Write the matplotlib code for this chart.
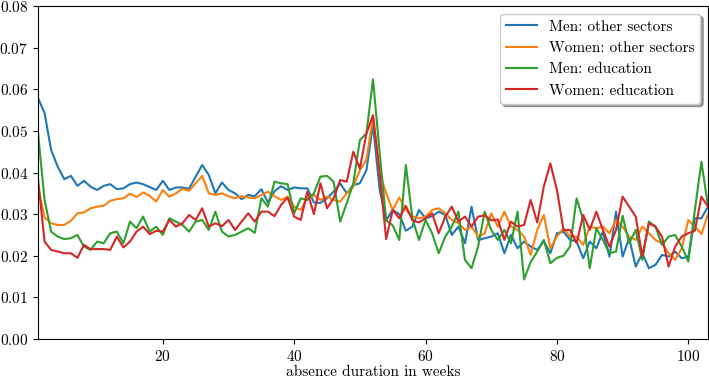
import matplotlib
matplotlib.use("Agg")
import matplotlib.pyplot as plt
import numpy as np

plt.rcParams['font.family'] = 'serif'
plt.rcParams['font.serif'] = ['cmr10', 'DejaVu Serif']
plt.rcParams['mathtext.fontset'] = 'cm'
plt.rcParams['axes.formatter.use_mathtext'] = True
plt.rcParams['font.size'] = 11

weeks = np.arange(1, 104)

# share of absences ending in each week
men_other = [
    0.0579, 0.0543, 0.0454, 0.0414, 0.0384, 0.0392, 0.0368, 0.0380, 0.0366, 0.0358,
    0.0368, 0.0372, 0.0360, 0.0362, 0.0372, 0.0376, 0.0372, 0.0365, 0.0358, 0.0380,
    0.0358, 0.0364, 0.0364, 0.0361, 0.0390, 0.0418, 0.0394, 0.0350, 0.0376, 0.0358,
    0.0350, 0.0336, 0.0346, 0.0343, 0.0360, 0.0328, 0.0355, 0.0367, 0.0358, 0.0364,
    0.0362, 0.0362, 0.0328, 0.0327, 0.0338, 0.0354, 0.0374, 0.0350, 0.0370, 0.0374,
    0.0406, 0.0515, 0.0360, 0.0285, 0.0310, 0.0300, 0.0260, 0.0270, 0.0310, 0.0290,
    0.0295, 0.0306, 0.0298, 0.0250, 0.0270, 0.0230, 0.0318, 0.0238, 0.0242, 0.0246,
    0.0254, 0.0206, 0.0250, 0.0218, 0.0234, 0.0222, 0.0214, 0.0235, 0.0206, 0.0254,
    0.0258, 0.0238, 0.0234, 0.0194, 0.0234, 0.0218, 0.0258, 0.0198, 0.0306, 0.0198,
    0.0242, 0.0174, 0.0206, 0.0170, 0.0178, 0.0202, 0.0198, 0.0210, 0.0194, 0.0198,
    0.0290, 0.0290, 0.0318,
]

women_other = [
    0.0365, 0.0292, 0.0278, 0.0274, 0.0274, 0.0284, 0.0302, 0.0304, 0.0314, 0.0318,
    0.0320, 0.0332, 0.0336, 0.0338, 0.0349, 0.0341, 0.0352, 0.0344, 0.0330, 0.0358,
    0.0342, 0.0350, 0.0361, 0.0356, 0.0374, 0.0392, 0.0350, 0.0346, 0.0350, 0.0343,
    0.0338, 0.0343, 0.0340, 0.0338, 0.0346, 0.0354, 0.0343, 0.0334, 0.0342, 0.0318,
    0.0310, 0.0338, 0.0346, 0.0334, 0.0342, 0.0334, 0.0330, 0.0350, 0.0366, 0.0406,
    0.0430, 0.0534, 0.0400, 0.0350, 0.0310, 0.0340, 0.0310, 0.0295, 0.0290, 0.0294,
    0.0310, 0.0314, 0.0302, 0.0286, 0.0278, 0.0262, 0.0270, 0.0246, 0.0254, 0.0302,
    0.0270, 0.0306, 0.0270, 0.0262, 0.0246, 0.0202, 0.0262, 0.0298, 0.0218, 0.0246,
    0.0266, 0.0246, 0.0246, 0.0226, 0.0270, 0.0266, 0.0270, 0.0254, 0.0286, 0.0270,
    0.0246, 0.0238, 0.0270, 0.0254, 0.0238, 0.0230, 0.0206, 0.0190, 0.0218, 0.0286,
    0.0270, 0.0252, 0.0300,
]

men_edu = [
    0.0495, 0.0334, 0.0258, 0.0246, 0.0240, 0.0242, 0.0250, 0.0222, 0.0214, 0.0234,
    0.0230, 0.0254, 0.0258, 0.0230, 0.0282, 0.0266, 0.0294, 0.0258, 0.0270, 0.0250,
    0.0290, 0.0282, 0.0274, 0.0258, 0.0282, 0.0286, 0.0262, 0.0306, 0.0258, 0.0246,
    0.0250, 0.0258, 0.0266, 0.0255, 0.0338, 0.0318, 0.0378, 0.0374, 0.0372, 0.0302,
    0.0338, 0.0334, 0.0350, 0.0390, 0.0392, 0.0378, 0.0282, 0.0326, 0.0374, 0.0478,
    0.0494, 0.0624, 0.0450, 0.0285, 0.0273, 0.0238, 0.0418, 0.0289, 0.0238, 0.0286,
    0.0254, 0.0206, 0.0246, 0.0270, 0.0306, 0.0190, 0.0170, 0.0222, 0.0306, 0.0262,
    0.0238, 0.0262, 0.0230, 0.0306, 0.0143, 0.0185, 0.0210, 0.0238, 0.0182, 0.0195,
    0.0200, 0.0222, 0.0338, 0.0286, 0.0170, 0.0266, 0.0238, 0.0206, 0.0210, 0.0296,
    0.0230, 0.0262, 0.0190, 0.0282, 0.0270, 0.0226, 0.0246, 0.0250, 0.0222, 0.0186,
    0.0310, 0.0426, 0.0318,
]

women_edu = [
    0.0385, 0.0234, 0.0214, 0.0210, 0.0206, 0.0206, 0.0195, 0.0226, 0.0216, 0.0216,
    0.0216, 0.0214, 0.0246, 0.0220, 0.0234, 0.0258, 0.0270, 0.0252, 0.0260, 0.0258,
    0.0286, 0.0270, 0.0278, 0.0298, 0.0286, 0.0314, 0.0270, 0.0278, 0.0271, 0.0286,
    0.0262, 0.0282, 0.0302, 0.0282, 0.0306, 0.0306, 0.0295, 0.0322, 0.0340, 0.0294,
    0.0286, 0.0354, 0.0300, 0.0374, 0.0314, 0.0338, 0.0382, 0.0378, 0.0450, 0.0410,
    0.0494, 0.0538, 0.0400, 0.0240, 0.0310, 0.0290, 0.0320, 0.0285, 0.0280, 0.0290,
    0.0302, 0.0254, 0.0294, 0.0318, 0.0282, 0.0294, 0.0270, 0.0294, 0.0297, 0.0285,
    0.0287, 0.0238, 0.0282, 0.0270, 0.0274, 0.0334, 0.0280, 0.0366, 0.0422, 0.0358,
    0.0262, 0.0262, 0.0230, 0.0298, 0.0262, 0.0306, 0.0262, 0.0222, 0.0262, 0.0342,
    0.0318, 0.0294, 0.0198, 0.0278, 0.0270, 0.0246, 0.0174, 0.0222, 0.0246, 0.0254,
    0.0260, 0.0342, 0.0318,
]

fig = plt.figure(figsize=(7.09, 3.80), dpi=100)
ax = fig.add_axes([0.0536, 0.108, 0.945, 0.876])

ax.plot(weeks, men_other, label='Men: other sectors')
ax.plot(weeks, women_other, label='Women: other sectors')
ax.plot(weeks, men_edu, label='Men: education')
ax.plot(weeks, women_edu, label='Women: education')

ax.set_xlim(1, 103)
ax.set_ylim(0, 0.08)
ax.set_xticks([20, 40, 60, 80, 100])
ax.set_xlabel('absence duration in weeks', labelpad=1)
ax.legend(loc='upper right', shadow=True)

fig.savefig('out.png', dpi=100)
